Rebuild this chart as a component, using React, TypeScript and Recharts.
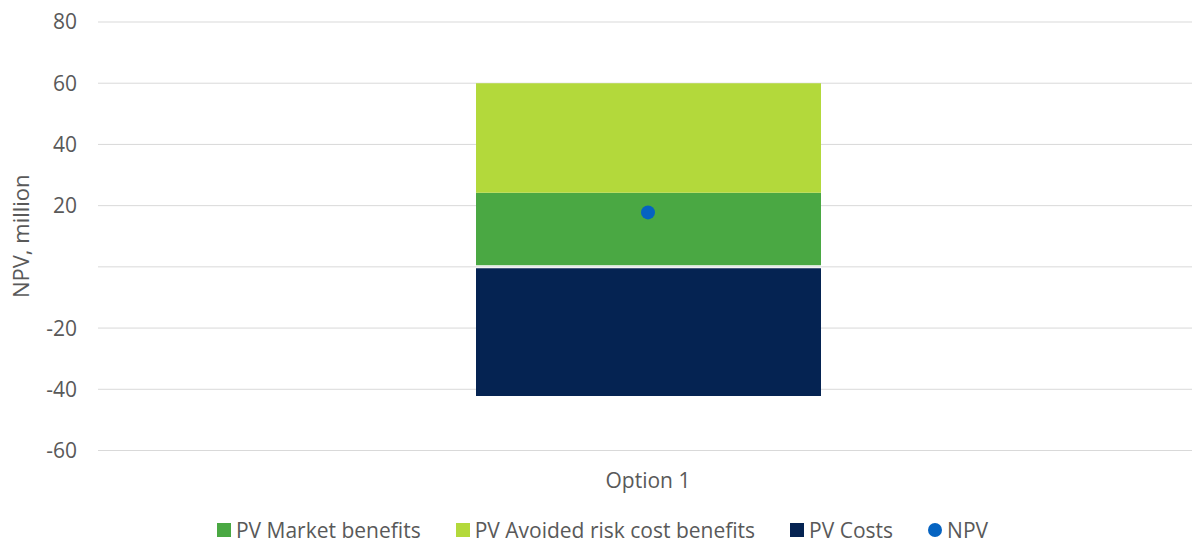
import React from 'react';
import {
  ComposedChart,
  Bar,
  Line,
  XAxis,
  YAxis,
  CartesianGrid,
  Legend,
  ReferenceLine,
} from 'recharts';

// Net present value breakdown for each option (millions)
const categories = ['Option 1'];
const marketBenefits = [24.2];
const avoidedRiskBenefits = [35.8];
const costs = [-42.2];
const npv = [17.8];

const yTicks = [-60, -40, -20, 0, 20, 40, 60, 80];

const COLORS = {
  market: '#4AA843',
  avoided: '#B3D93B',
  costs: '#052352',
  npv: '#0563C1',
  grid: '#D9D9D9',
  text: '#595959',
};

const FONT = '"Open Sans", "Segoe UI", sans-serif';

const data = categories.map((name, i) => ({
  name,
  market: marketBenefits[i],
  avoided: avoidedRiskBenefits[i],
  costs: costs[i],
  npv: npv[i],
}));

const legendItems = [
  { label: 'PV Market benefits', color: COLORS.market, shape: 'square' },
  { label: 'PV Avoided risk cost benefits', color: COLORS.avoided, shape: 'square' },
  { label: 'PV Costs', color: COLORS.costs, shape: 'square' },
  { label: 'NPV', color: COLORS.npv, shape: 'circle' },
];

const LegendContent = () => (
  <div
    style={{
      display: 'flex',
      justifyContent: 'center',
      alignItems: 'center',
      fontFamily: FONT,
      fontSize: 21,
      lineHeight: '20px',
      height: 20,
      color: COLORS.text,
      paddingLeft: 5,
    }}
  >
    {legendItems.map((item, i) => (
      <div
        key={item.label}
        style={{
          display: 'flex',
          alignItems: 'center',
          marginLeft: i === 0 ? 0 : 35,
          whiteSpace: 'nowrap',
        }}
      >
        <span
          style={{
            display: 'inline-block',
            width: 14,
            height: 14,
            background: item.color,
            borderRadius: item.shape === 'circle' ? '50%' : 0,
            marginRight: 5,
          }}
        />
        <span>{item.label}</span>
      </div>
    ))}
  </div>
);

const YTitle = (props: any) => {
  const vb = props.viewBox || {};
  const cx = 20;
  const cy = (vb.y ?? 0) + (vb.height ?? 0) / 2;
  return (
    <text
      x={cx}
      y={cy}
      transform={`rotate(-90 ${cx} ${cy})`}
      textAnchor="middle"
      dominantBaseline="central"
      fill={COLORS.text}
      fontFamily={FONT}
      fontSize={22}
    >
      NPV, million
    </text>
  );
};

export default function App() {
  return (
    <div
      style={{
        position: 'fixed',
        left: 0,
        top: 0,
        width: 1192,
        height: 545,
        overflow: 'hidden',
        background: '#FFFFFF',
      }}
    >
      <ComposedChart
        width={1200}
        height={545}
        data={data}
        stackOffset="sign"
        margin={{ top: 22, right: 2, left: 0, bottom: 64.5 }}
      >
        <CartesianGrid vertical={false} stroke={COLORS.grid} strokeWidth={1} />
        <XAxis
          dataKey="name"
          axisLine={false}
          tickLine={false}
          tickMargin={17}
          height={30}
          tick={{ fill: COLORS.text, fontFamily: FONT, fontSize: 21 }}
        />
        <YAxis
          width={98}
          domain={[-60, 80]}
          ticks={yTicks}
          interval={0}
          axisLine={false}
          tickLine={false}
          tickMargin={15}
          tickFormatter={(v: number) => (v === 0 ? '' : String(v))}
          tick={{ fill: COLORS.text, fontFamily: FONT, fontSize: 21 }}
          label={<YTitle />}
        />
        <Bar dataKey="market" stackId="npv" fill={COLORS.market} barSize={345} isAnimationActive={false} />
        <Bar dataKey="avoided" stackId="npv" fill={COLORS.avoided} barSize={345} isAnimationActive={false} />
        <Bar dataKey="costs" stackId="npv" fill={COLORS.costs} barSize={345} isAnimationActive={false} />
        <ReferenceLine y={0} stroke="#FFFFFF" strokeWidth={3} />
        <ReferenceLine y={0} stroke={COLORS.grid} strokeWidth={1} />
        <Line
          dataKey="npv"
          stroke="none"
          dot={{ r: 7, fill: COLORS.npv, stroke: 'none' }}
          activeDot={false}
          isAnimationActive={false}
        />
        <Legend
          layout="horizontal"
          verticalAlign="middle"
          align="center"
          wrapperStyle={{ top: 520, left: 0, width: 1200, height: 20 }}
          content={<LegendContent />}
        />
      </ComposedChart>
    </div>
  );
}
